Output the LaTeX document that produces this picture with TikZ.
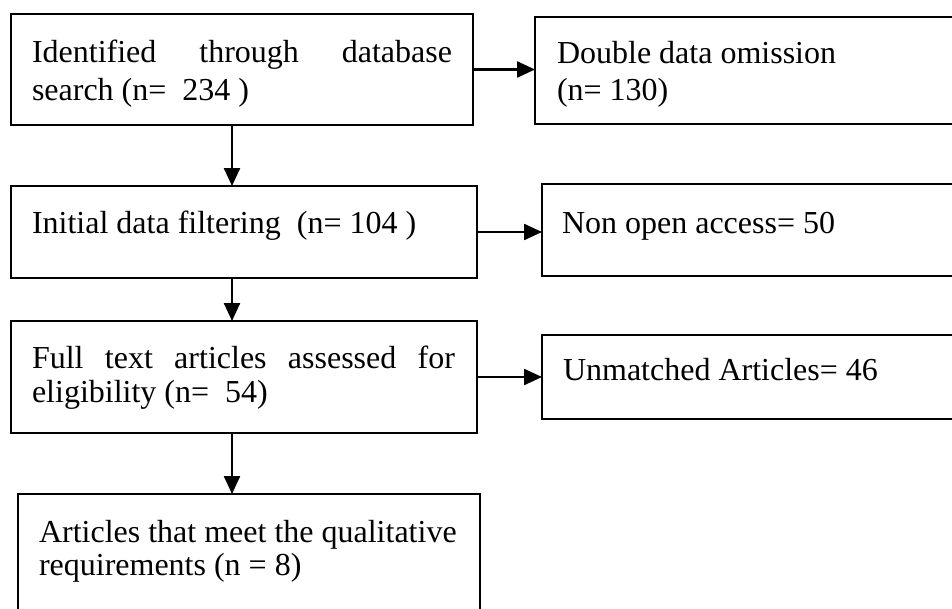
\documentclass[tikz,border=0pt]{standalone}
\usepackage{fontspec}
\setmainfont{Liberation Serif}
\usetikzlibrary{arrows.meta}

\tikzset{
  stagebox/.style={draw=black, line width=2pt, inner sep=0pt, outer sep=0pt,
                   anchor=north west, fill=white},
  label/.style={anchor=base west, inner sep=0pt, outer sep=0pt,
                font=\fontsize{32}{38}\selectfont},
  flow/.style={line width=2.4pt, -{Triangle[length=18pt, width=16pt]}}
}

\begin{document}
\begin{tikzpicture}[x=1pt, y=-1pt]
  \useasboundingbox (0,0) rectangle (952,608);
  \clip (0,0) rectangle (952,608);
  \fill[white] (0,0) rectangle (952,608);

  % main column of stages
  \node[stagebox, minimum width=462pt, minimum height=111pt] (b1) at (11,14) {};
  \node[stagebox, minimum width=466pt, minimum height=92pt]  (b3) at (11,186) {};
  \node[stagebox, minimum width=466pt, minimum height=112pt] (b5) at (11,321) {};
  \node[stagebox, minimum width=462pt, minimum height=140pt] (b7) at (18,494) {};

  % exclusions on the right
  \node[stagebox, minimum width=440pt, minimum height=107pt] (b2) at (535,17) {};
  \node[stagebox, minimum width=440pt, minimum height=92pt]  (b4) at (542,184) {};
  \node[stagebox, minimum width=440pt, minimum height=84pt]  (b6) at (542,335) {};

  % texts
  \node[label] (t1a) at (32,62)
    {\hbox to 420pt{Identified\hfill through\hfill database}};
  \node[label] (t1b) at (32,100) {search (n=\ \ 234 )};

  \node[label] (t2a) at (557,63) {Double data omission};
  \node[label] (t2b) at (557,100) {(n= 130)};

  \node[label] (t3) at (32,233) {Initial data filtering\ \ (n= 104 )};
  \node[label] (t4) at (562,233) {Non open access= 50};

  \node[label] (t5a) at (32,368)
    {\hbox to 423pt{Full\hfill text\hfill articles\hfill assessed\hfill for}};
  \node[label] (t5b) at (32,402) {eligibility (n=\ \ 54)};

  \node[label] (t6) at (563,380) {Unmatched Articles= 46};

  \node[label] (t7a) at (39,542) {Articles that meet the qualitative};
  \node[label] (t7b) at (39,575) {requirements (n = 8)};

  % connectors
  \coordinate (spine) at (232,0);
  \draw[flow] (b1.south -| spine) -- (b3.north -| spine);
  \draw[flow] (b3.south -| spine) -- (b5.north -| spine);
  \draw[flow] (b5.south -| spine) -- (b7.north -| spine);

  \draw[flow] (b1.east) -- (b1.east -| b2.west);
  \draw[flow] (b3.east) -- (b3.east -| b4.west);
  \draw[flow] (b5.east) -- (b5.east -| b6.west);
\end{tikzpicture}
\end{document}
